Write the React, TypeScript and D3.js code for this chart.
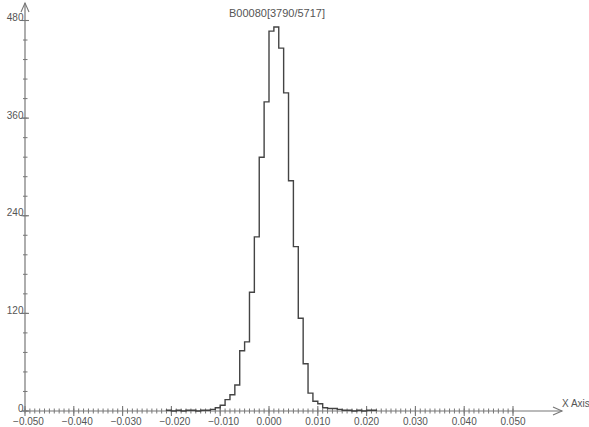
import React from "react";
import * as d3 from "d3";

const title = "B00080[3790/5717]";
const xAxisLabel = "X Axis";
const binWidth = 0.001;
// bin start values (x) and counts
const binStarts = [
  -0.021, -0.020, -0.019, -0.018, -0.017, -0.016, -0.015, -0.014, -0.013, -0.012,
  -0.011, -0.010, -0.009, -0.008, -0.007, -0.006, -0.005, -0.004, -0.003, -0.002,
  -0.001, 0.000, 0.001, 0.002, 0.003, 0.004, 0.005, 0.006, 0.007, 0.008,
  0.009, 0.010, 0.011, 0.012, 0.013, 0.014, 0.015, 0.016, 0.017, 0.018,
  0.019, 0.020, 0.021,
];
const binCounts = [
  1, 0, 1, 0, 1, 1, 0, 1, 1, 2,
  4, 7, 14, 20, 32, 74, 85, 146, 214, 312,
  380, 467, 472, 446, 391, 283, 202, 114, 58, 22,
  12, 9, 4, 3, 3, 2, 1, 1, 0, 1,
  0, 1, 1,
];
const xTicks = [-0.05, -0.04, -0.03, -0.02, -0.01, 0, 0.01, 0.02, 0.03, 0.04, 0.05];
const yTicks = [0, 120, 240, 360, 480];

export default function App() {
  const W = 589, H = 427;
  const x = d3.scaleLinear().domain([-0.05, 0.05]).range([25, 513]);
  const y = d3.scaleLinear().domain([0, 480]).range([411, 20.5]);
  const axisColor = "#777";
  const textColor = "#555";
  const font = "'Liberation Sans', Arial, sans-serif";

  // step path
  let path = "";
  binStarts.forEach((s, i) => {
    const x0 = x(s), x1 = x(s + binWidth), yy = y(binCounts[i]);
    if (i === 0) path += `M${x0},${y(0)}L${x0},${yy}`;
    else path += `L${x0},${yy}`;
    path += `L${x1},${yy}`;
    if (i === binStarts.length - 1) path += `L${x1},${y(0)}`;
  });

  const minorX = d3.range(0, 101).map((i) => -0.05 + i * 0.001);
  const minorY = d3.range(0, 21).map((i) => i * 24);
  const fmt = d3.format(".3f");

  return (
    <svg width={W} height={H} style={{ position: "fixed", left: 0, top: 0, background: "#fff" }} fontFamily={font}>
      {/* title */}
      <text x={277} y={17} fontSize={11} fill={textColor} textAnchor="middle">{title}</text>

      {/* y axis */}
      <line x1={25} y1={411} x2={25} y2={3} stroke={axisColor} strokeWidth={1.2} />
      <path d="M21,12 L25,3 L29,12" fill="none" stroke={axisColor} strokeWidth={1.1} />
      {minorY.map((v) => (
        <line key={"my" + v} x1={23} x2={27.5} y1={y(v)} y2={y(v)} stroke={axisColor} strokeWidth={1} />
      ))}
      {yTicks.map((v) => (
        <g key={"yt" + v}>
          <line x1={21.5} x2={29} y1={y(v)} y2={y(v)} stroke={axisColor} strokeWidth={1.1} />
          <text x={23.5} y={y(v) + 0.5} fontSize={10} fill={textColor} textAnchor="end">{v}</text>
        </g>
      ))}

      {/* x axis */}
      <line x1={25} y1={411} x2={562} y2={411} stroke={axisColor} strokeWidth={1.2} />
      <path d="M553,407 L562,411 L553,415" fill="none" stroke={axisColor} strokeWidth={1.1} />
      {minorX.map((v, i) => (
        <line key={"mx" + i} x1={x(v)} x2={x(v)} y1={408.5} y2={413.5} stroke={axisColor} strokeWidth={1} />
      ))}
      {xTicks.map((v) => (
        <g key={"xt" + v}>
          <line x1={x(v)} x2={x(v)} y1={406} y2={416} stroke={axisColor} strokeWidth={1.1} />
          <text x={x(v) + (v < 0 ? 3.5 : 0)} y={425} fontSize={10} fill={textColor} textAnchor="middle">
            {fmt(v === 0 ? 0 : v)}
          </text>
        </g>
      ))}
      <text x={562} y={407} fontSize={10} fill={textColor}>{xAxisLabel}</text>

      {/* histogram */}
      <path d={path} fill="none" stroke="#444" strokeWidth={1.4} />
    </svg>
  );
}
